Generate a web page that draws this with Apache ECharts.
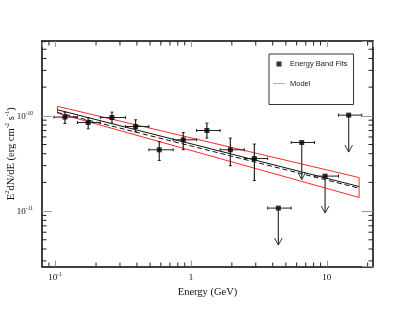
<!DOCTYPE html>
<html><head><meta charset="utf-8">
<script src="https://cdn.jsdelivr.net/npm/echarts@6/dist/echarts.min.js"></script>
<style>html,body{margin:0;padding:0;background:#fff}#c{width:415px;height:312px}</style>
</head><body><div id="c"></div>
<script>
// ---- data ----
const energy   = [0.118, 0.175, 0.262, 0.391, 0.584, 0.878, 1.31, 1.95, 2.93, 4.40, 6.54, 9.72, 14.5];
const binEdges = [0.098, 0.146, 0.215, 0.33, 0.49, 0.74, 1.1, 1.64, 2.47, 3.67, 5.47, 8.13, 12.2, 18.1];
const flux     = [9.69e-11, 8.50e-11, 9.60e-11, 7.72e-11, 4.40e-11, 5.60e-11, 7.01e-11, 4.40e-11, 3.56e-11, 1.075e-11, 5.25e-11, 2.33e-11, 1.017e-10];
const fluxLow  = [8.30e-11, 7.30e-11, 8.38e-11, 6.79e-11, 3.40e-11, 4.40e-11, 5.83e-11, 2.99e-11, 2.09e-11, null, null, null, null];
const fluxHigh = [1.093e-10, 9.53e-11, 1.093e-10, 9.08e-11, 5.37e-11, 6.68e-11, 8.38e-11, 5.83e-11, 5.05e-11, null, null, null, null];
const isUpperLimit = [false, false, false, false, false, false, false, false, false, true, true, true, true];

const modelEnergy = [0.104, 17.3];
const modelFlux   = [1.156e-10, 1.81e-11];
const model2Flux  = [1.085e-10, 1.74e-11];
const bandUpper   = [1.258e-10, 2.25e-11];
const bandLower   = [1.067e-10, 1.39e-11];

const X_MIN = 0.08, X_MAX = 21.9;
const Y_MIN = 2.62e-12, Y_MAX = 6.1e-10;
const xTickLabels = {'-1': '{b|10}{s|-1}', '0': '{b|1}', '1': '{b|10}'};
const yTickLabels = {'-10': '{b|10}{s|-10}', '-11': '{b|10}{s|-11}'};

// minor tick values (2..9 x 10^k) inside the axis ranges
function minorTicks(lo, hi) {
  const out = [];
  for (let k = Math.floor(Math.log10(lo)) - 1; k <= Math.ceil(Math.log10(hi)); k++) {
    for (let m = 2; m <= 9; m++) {
      const v = m * Math.pow(10, k);
      if (v > lo * 1.0001 && v < hi * 0.9999) out.push(v);
    }
  }
  return out;
}
const xMinor = minorTicks(X_MIN, X_MAX);
const yMinor = minorTicks(Y_MIN, Y_MAX);

function isPow10(v) { const l = Math.log10(v); return Math.abs(l - Math.round(l)) < 1e-6; }

const serif = 'Liberation Serif';
const tickRich = {
  b: {fontFamily: serif, fontSize: 9, color: '#111', lineHeight: 11, verticalAlign: 'bottom'},
  s: {fontFamily: serif, fontSize: 5.5, color: '#111', lineHeight: 6, verticalAlign: 'top'}
};
const nameRich = {
  n: {fontFamily: serif, fontSize: 10.5, color: '#111', lineHeight: 13, verticalAlign: 'bottom'},
  s: {fontFamily: serif, fontSize: 6.5, color: '#111', lineHeight: 7, verticalAlign: 'top'}
};

const axisLine = {show: true, onZero: false, lineStyle: {color: '#000', width: 1.5}};
const tickColor = '#999';
const minorColor = '#222';

const chart = echarts.init(document.getElementById('c'), null, {renderer: 'canvas'});

const option = {
  backgroundColor: '#fff',
  animation: false,
  grid: {left: 42, right: 42, top: 41, bottom: 45.5, containLabel: false, outerBoundsMode: 'none'},
  legend: {
    orient: 'vertical', left: 269, top: 54, padding: [6, 6, 17, 4],
    itemWidth: 12, itemHeight: 5, itemGap: 11.5,
    borderColor: '#333', borderWidth: 1, selectedMode: false,
    textStyle: {fontFamily: 'Liberation Sans', fontSize: 7.5, color: '#222'},
    data: [
      {name: 'Energy Band Fits', icon: 'path://M0 0H10V10H0Z', itemStyle: {color: '#000'}},
      {name: 'Model', icon: 'path://M0 0H24V1H0Z', itemStyle: {color: '#555', borderWidth: 0}}
    ]
  },
  xAxis: [
    {
      type: 'log', logBase: 10, min: X_MIN, max: X_MAX, position: 'bottom',
      axisLine: axisLine,
      axisTick: {show: true, inside: true, length: 6, lineStyle: {color: tickColor, width: 1}},
      axisLabel: {
        margin: 5, showMinLabel: false, showMaxLabel: false,
        formatter: v => isPow10(v) ? (xTickLabels[String(Math.round(Math.log10(v)))] || '') : '',
        rich: tickRich
      },
      splitLine: {show: false},
      name: 'Energy (GeV)', nameLocation: 'middle', nameGap: 20, nameMoveOverlap: false,
      nameTextStyle: {fontFamily: serif, fontSize: 10.5, color: '#111'}
    },
    {
      type: 'log', logBase: 10, min: X_MIN, max: X_MAX, position: 'top',
      axisLine: axisLine,
      axisTick: {show: true, inside: true, length: 6, lineStyle: {color: tickColor, width: 1}},
      axisLabel: {show: false}, splitLine: {show: false}
    }
  ],
  yAxis: [
    {
      type: 'log', logBase: 10, min: Y_MIN, max: Y_MAX, position: 'left',
      axisLine: axisLine,
      axisTick: {show: true, inside: true, length: 10, lineStyle: {color: tickColor, width: 1}},
      axisLabel: {
        margin: 9, showMinLabel: false, showMaxLabel: false,
        formatter: v => isPow10(v) ? (yTickLabels[String(Math.round(Math.log10(v)))] || '') : '',
        rich: tickRich
      },
      splitLine: {show: false},
      name: '{n|E}{s|2}{n|dN/dE (erg cm}{s|-2}{n| s}{s|-1}{n|)}',
      nameLocation: 'middle', nameGap: 25, nameMoveOverlap: false,
      nameTextStyle: {rich: nameRich}
    },
    {
      type: 'log', logBase: 10, min: Y_MIN, max: Y_MAX, position: 'right',
      axisLine: axisLine,
      axisTick: {show: true, inside: true, length: 11, lineStyle: {color: tickColor, width: 1}},
      axisLabel: {show: false}, splitLine: {show: false}
    }
  ],
  series: [
    {
      type: 'custom', name: 'xminor', silent: true, clip: false, z: 1,
      encode: {x: 0, y: 1},
      data: xMinor.map(v => [v, Y_MIN]),
      renderItem: (params, api) => {
        const v = api.value(0);
        const pb = api.coord([v, Y_MIN]), pt = api.coord([v, Y_MAX]);
        const st = {stroke: minorColor, lineWidth: 1};
        return {type: 'group', children: [
          {type: 'line', shape: {x1: pb[0], y1: pb[1], x2: pb[0], y2: pb[1] - 4}, style: st},
          {type: 'line', shape: {x1: pt[0], y1: pt[1], x2: pt[0], y2: pt[1] + 4.5}, style: st}
        ]};
      }
    },
    {
      type: 'custom', name: 'yminor', silent: true, clip: false, z: 1,
      encode: {x: 0, y: 1},
      data: yMinor.map(v => [X_MIN, v]),
      renderItem: (params, api) => {
        const v = api.value(1);
        const pl = api.coord([X_MIN, v]), pr = api.coord([X_MAX, v]);
        const st = {stroke: minorColor, lineWidth: 1};
        return {type: 'group', children: [
          {type: 'line', shape: {x1: pl[0], y1: pl[1], x2: pl[0] + 4.5, y2: pl[1]}, style: st},
          {type: 'line', shape: {x1: pr[0], y1: pr[1], x2: pr[0] - 4.5, y2: pr[1]}, style: st}
        ]};
      }
    },
    {
      type: 'line', name: 'band', silent: true, symbol: 'none', z: 2,
      lineStyle: {color: '#ff2a2a', width: 1},
      data: [
        [modelEnergy[0], bandUpper[0]], [modelEnergy[1], bandUpper[1]],
        [modelEnergy[1], bandLower[1]], [modelEnergy[0], bandLower[0]],
        [modelEnergy[0], bandUpper[0]]
      ]
    },
    {
      type: 'line', name: 'Model', symbol: 'none', z: 3,
      lineStyle: {color: '#111', width: 1}, itemStyle: {color: '#111'},
      data: modelEnergy.map((e, i) => [e, modelFlux[i]])
    },
    {
      type: 'line', name: 'model2', symbol: 'none', z: 3, silent: true,
      lineStyle: {color: '#111', width: 1, type: [5, 3]},
      data: modelEnergy.map((e, i) => [e, model2Flux[i]])
    },
    {
      type: 'custom', name: 'errors', silent: true, z: 4,
      encode: {x: 0, y: 1},
      data: energy.map((e, i) => [e, flux[i], binEdges[i], binEdges[i + 1],
        fluxLow[i] ?? flux[i], fluxHigh[i] ?? flux[i], isUpperLimit[i] ? 1 : 0]),
      renderItem: (params, api) => {
        const x = api.value(0), y = api.value(1);
        const p = api.coord([x, y]);
        const pl = api.coord([api.value(2), y]), ph = api.coord([api.value(3), y]);
        const st = {stroke: '#222', lineWidth: 1};
        const ch = [
          {type: 'line', shape: {x1: pl[0], y1: p[1], x2: ph[0], y2: p[1]}, style: st},
          {type: 'line', shape: {x1: pl[0], y1: p[1] - 1.5, x2: pl[0], y2: p[1] + 1.5}, style: st},
          {type: 'line', shape: {x1: ph[0], y1: p[1] - 1.5, x2: ph[0], y2: p[1] + 1.5}, style: st}
        ];
        if (api.value(6) === 1) {
          const len = 37;
          ch.push({type: 'line', shape: {x1: p[0], y1: p[1], x2: p[0], y2: p[1] + len}, style: {stroke: '#333', lineWidth: 1.2}});
          ch.push({type: 'polyline', shape: {points: [[p[0] - 3.8, p[1] + len - 7], [p[0], p[1] + len], [p[0] + 3.8, p[1] + len - 7]]},
                   style: {stroke: '#333', lineWidth: 1, fill: null}});
        } else {
          const lo = api.coord([x, api.value(4)]), hi = api.coord([x, api.value(5)]);
          ch.push({type: 'line', shape: {x1: p[0], y1: lo[1], x2: p[0], y2: hi[1]}, style: {stroke: '#222', lineWidth: 1.2}});
          ch.push({type: 'line', shape: {x1: p[0] - 1.5, y1: lo[1], x2: p[0] + 1.5, y2: lo[1]}, style: st});
          ch.push({type: 'line', shape: {x1: p[0] - 1.5, y1: hi[1], x2: p[0] + 1.5, y2: hi[1]}, style: st});
        }
        return {type: 'group', children: ch};
      }
    },
    {
      type: 'scatter', name: 'Energy Band Fits', symbol: 'rect', symbolSize: 5, z: 5,
      itemStyle: {color: '#000'},
      data: energy.map((e, i) => [e, flux[i]])
    }
  ]
};
chart.setOption(option);
</script>
</body></html>
